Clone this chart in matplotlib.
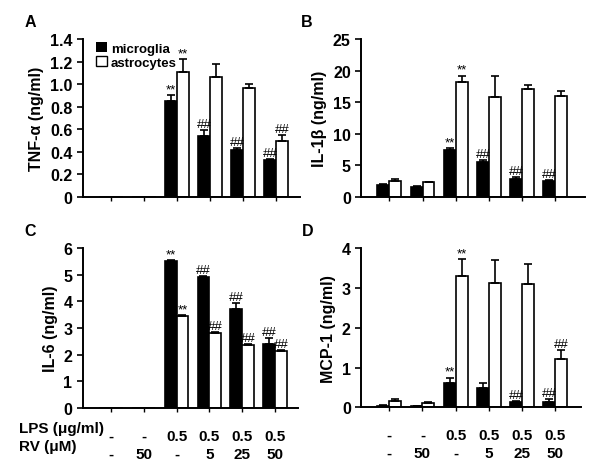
import numpy as np
import matplotlib
matplotlib.use("Agg")
import matplotlib.pyplot as plt

plt.rcParams['font.family'] = ['Liberation Sans', 'DejaVu Sans']
plt.rcParams['font.weight'] = 'bold'

groups = np.arange(6)
lps_labels = ['-', '-', '0.5', '0.5', '0.5', '0.5']
rv_labels = ['-', '50', '-', '5', '25', '50']

# panel A: TNF-alpha
tnf_mg = [0, 0, 0.85, 0.54, 0.42, 0.33]
tnf_mg_err = [0, 0, 0.05, 0.05, 0.015, 0.008]
tnf_as = [0, 0, 1.11, 1.065, 0.965, 0.50]
tnf_as_err = [0, 0, 0.11, 0.115, 0.04, 0.045]
tnf_mark_mg = ['', '', '**', '##', '##', '##']
tnf_mark_as = ['', '', '**', '', '', '##']

# panel B: IL-1beta
il1_mg = [1.85, 1.58, 7.4, 5.5, 2.9, 2.6]
il1_mg_err = [0.2, 0.12, 0.35, 0.35, 0.2, 0.15]
il1_as = [2.6, 2.3, 18.2, 15.9, 17.1, 15.95]
il1_as_err = [0.2, 0.1, 1.0, 3.3, 0.7, 0.75]
il1_mark_mg = ['', '', '**', '##', '##', '##']
il1_mark_as = ['', '', '**', '', '', '']

# panel C: IL-6
il6_mg = [0, 0, 5.52, 4.92, 3.71, 2.4]
il6_mg_err = [0, 0, 0.03, 0.03, 0.21, 0.22]
il6_as = [0, 0, 3.44, 2.8, 2.36, 2.14]
il6_as_err = [0, 0, 0.03, 0.03, 0.03, 0.02]
il6_mark_mg = ['', '', '**', '##', '##', '##']
il6_mark_as = ['', '', '**', '##', '##', '##']

# panel D: MCP-1
mcp_mg = [0.04, 0.025, 0.6, 0.48, 0.14, 0.13]
mcp_mg_err = [0.02, 0.01, 0.15, 0.14, 0.03, 0.07]
mcp_as = [0.17, 0.12, 3.31, 3.12, 3.1, 1.22]
mcp_as_err = [0.03, 0.02, 0.42, 0.59, 0.52, 0.23]
mcp_mark_mg = ['', '', '**', '', '##', '##']
mcp_mark_as = ['', '', '**', '', '', '##']

fig = plt.figure(figsize=(6, 4.77), dpi=100)

w = 0.36


def panel(rect, xlim, mg, mg_err, ast, ast_err, mk_mg, mk_as, ylim, yticks,
          yticklabels, ylabel, letter, table=None):
    ax = fig.add_axes(rect)
    ax.bar(groups - w / 2, mg, w, color='black', edgecolor='black', lw=1.2)
    ax.bar(groups + w / 2, ast, w, color='white', edgecolor='black', lw=1.2)
    for x, v, e in zip(groups - w / 2, mg, mg_err):
        if v > 0:
            ax.errorbar(x, v, yerr=[[0], [e]], color='black', capsize=3,
                        elinewidth=1.2, capthick=1.2)
    for x, v, e in zip(groups + w / 2, ast, ast_err):
        if v > 0:
            ax.errorbar(x, v, yerr=[[0], [e]], color='black', capsize=3,
                        elinewidth=1.2, capthick=1.2)
    # significance marks
    for x, v, e, m in zip(groups - w / 2, mg, mg_err, mk_mg):
        if m:
            ax.annotate(m, (x, v + e), xytext=(0, 0), textcoords='offset points',
                        ha='center', va='bottom', fontsize=9.5, fontweight='normal')
    for x, v, e, m in zip(groups + w / 2, ast, ast_err, mk_as):
        if m:
            ax.annotate(m, (x, v + e), xytext=(0, 0), textcoords='offset points',
                        ha='center', va='bottom', fontsize=9.5, fontweight='normal')
    ax.set_xlim(*xlim)
    ax.set_ylim(*ylim)
    ax.set_yticks(yticks)
    ax.set_yticklabels(yticklabels, fontsize=11.5, fontweight='bold')
    ax.set_xticks(groups)
    ax.set_xticklabels([])
    ax.tick_params(axis='y', length=4, width=1.2)
    ax.tick_params(axis='x', length=3, width=1.0)
    ax.spines['top'].set_visible(False)
    ax.spines['right'].set_visible(False)
    ax.spines['left'].set_linewidth(1.4)
    ax.spines['bottom'].set_linewidth(1.4)
    ax.set_ylabel(ylabel, fontsize=11.5, fontweight='bold', labelpad=4)
    ax.text(-0.27, 1.11, letter, transform=ax.transAxes, fontsize=11.5,
            fontweight='bold', va='center', ha='left')
    if table is not None:
        for g, a, b in zip(groups, lps_labels, rv_labels):
            ax.annotate(a, (g, 0), xycoords=('data', 'axes fraction'),
                        xytext=(0, -20), textcoords='offset points',
                        ha='center', va='center', fontsize=11, fontweight='bold')
            ax.annotate(b, (g, 0), xycoords=('data', 'axes fraction'),
                        xytext=(0, -33), textcoords='offset points',
                        ha='center', va='center', fontsize=11, fontweight='bold')
        if table == 'labels':
            ax.annotate('LPS (\u03bcg/ml)', (19 / 600, 1 - 429 / 477),
                        xycoords='figure fraction', ha='left', va='center',
                        fontsize=11, fontweight='bold')
            ax.annotate('RV (\u03bcM)', (19 / 600, 1 - 447 / 477),
                        xycoords='figure fraction', ha='left', va='center',
                        fontsize=11, fontweight='bold')
    return ax


axA = panel([0.138, 0.585, 0.362, 0.331], (-0.85, 5.72), tnf_mg, tnf_mg_err,
            tnf_as, tnf_as_err, tnf_mark_mg, tnf_mark_as, (0, 1.4),
            np.arange(0, 1.41, 0.2), ['0', '0.2', '0.4', '0.6', '0.8', '1.0', '1.2', '1.4'],
            'TNF-\u03b1 (ng/ml)', 'A')
axA.bar([np.nan], [np.nan], color='black', label='microglia')
axA.bar([np.nan], [np.nan], color='white', edgecolor='black', label='astrocytes')
axA.legend(loc='upper left', bbox_to_anchor=(0.02, 1.04), frameon=False,
           prop={'weight': 'bold', 'size': 9.5}, handlelength=0.8,
           handleheight=0.8, handletextpad=0.3, labelspacing=0.1, borderpad=0.2)

panel([0.602, 0.585, 0.373, 0.331], (-0.85, 5.9), il1_mg, il1_mg_err,
      il1_as, il1_as_err, il1_mark_mg, il1_mark_as, (0, 25),
      [0, 5, 10, 15, 20, 25], ['0', '5', '10', '15', '20', '25'],
      'IL-1\u03b2 (ng/ml)', 'B')

panel([0.138, 0.143, 0.359, 0.335], (-0.85, 5.7), il6_mg, il6_mg_err,
      il6_as, il6_as_err, il6_mark_mg, il6_mark_as, (0, 6),
      [0, 1, 2, 3, 4, 5, 6], ['0', '1', '2', '3', '4', '5', '6'],
      'IL-6 (ng/ml)', 'C', table='labels')

panel([0.602, 0.144, 0.366, 0.333], (-0.85, 5.78), mcp_mg, mcp_mg_err,
      mcp_as, mcp_as_err, mcp_mark_mg, mcp_mark_as, (0, 4),
      [0, 1, 2, 3, 4], ['0', '1', '2', '3', '4'],
      'MCP-1 (ng/ml)', 'D', table='values')

fig.savefig('out.png', dpi=100)
